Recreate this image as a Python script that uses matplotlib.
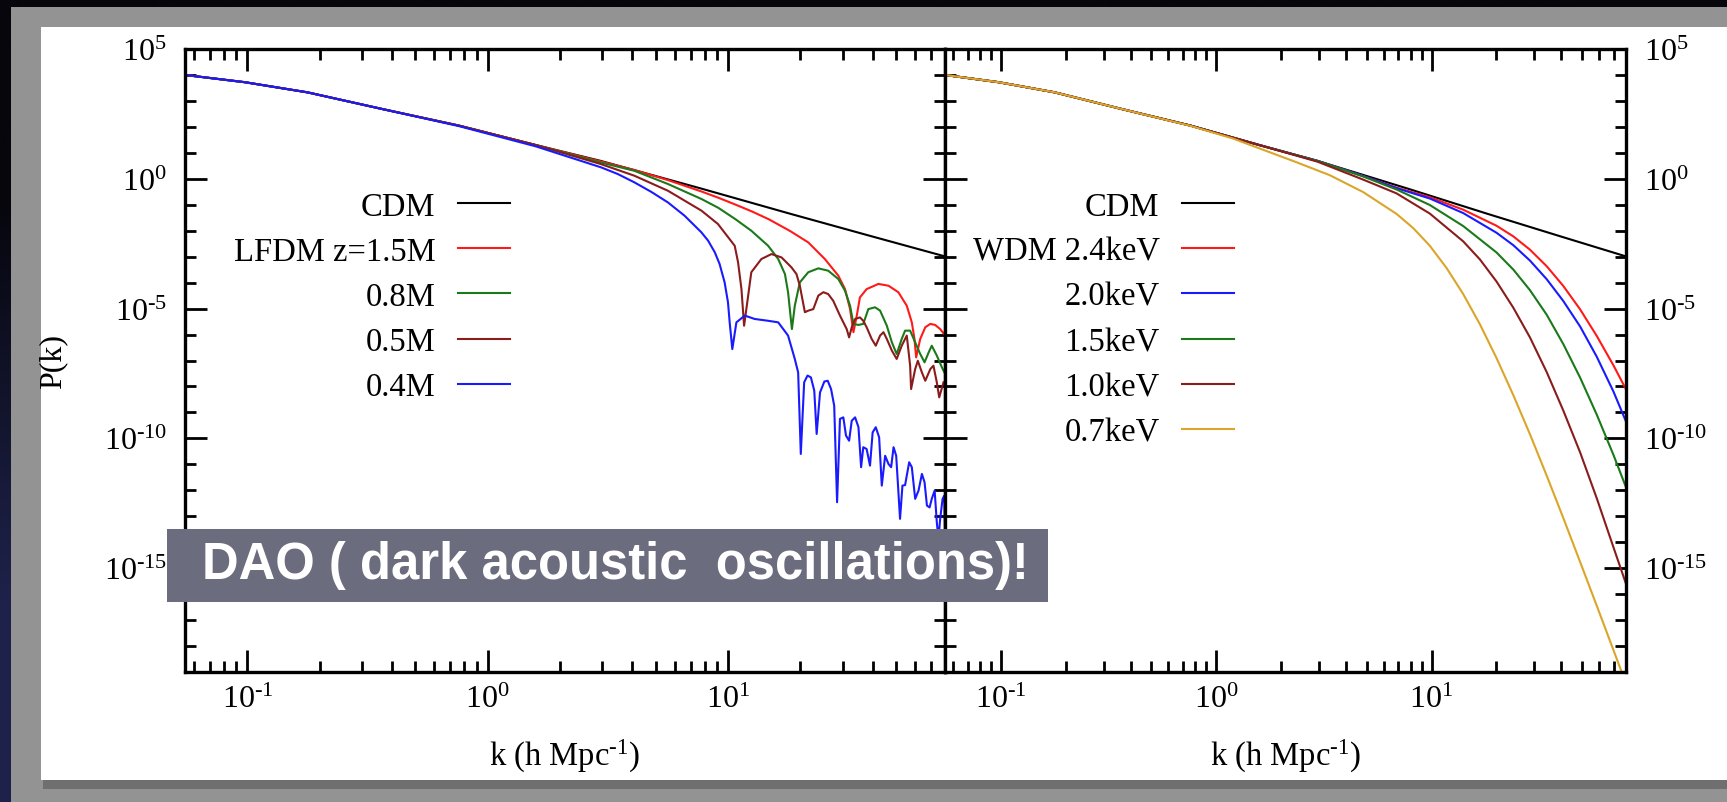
import numpy as np
import matplotlib
matplotlib.use("Agg")
import matplotlib.pyplot as plt
from matplotlib.patches import Rectangle
from matplotlib.ticker import FixedLocator, LogLocator, NullFormatter, FuncFormatter

plt.rcParams['font.family'] = ['Liberation Serif', 'DejaVu Serif']
plt.rcParams['mathtext.fontset'] = 'custom'
plt.rcParams['mathtext.rm'] = 'Liberation Serif'
plt.rcParams['mathtext.it'] = 'Liberation Serif:italic'

# ---------------- data (log10 k, log10 P) ----------------
cdm_logk = [-1.26, -1.01, -0.75, -0.44, -0.12, 0.20, 0.47, 0.89, 1.26, 1.58, 1.903]
cdm_logP = [4.00, 3.72, 3.33, 2.69, 2.05, 1.30, 0.69, -0.38, -1.35, -2.17, -2.99]

# left panel: LFDM
lf15_logk = [-1.26, -1.01, -0.75, -0.44, -0.12, 0.20, 0.47, 0.61, 0.75, 0.89, 0.96, 1.03,
             1.10, 1.17, 1.26, 1.334, 1.403, 1.459, 1.487, 1.508, 1.522, 1.536, 1.549,
             1.577, 1.626, 1.668, 1.709, 1.744, 1.765, 1.776, 1.783, 1.800, 1.821, 1.842,
             1.862, 1.883, 1.903]
lf15_logP = [4.00, 3.72, 3.33, 2.69, 2.05, 1.30, 0.67, 0.34, -0.05, -0.49, -0.73, -0.99,
             -1.26, -1.56, -2.02, -2.45, -3.09, -3.73, -4.25, -5.02, -5.91, -5.27, -4.57,
             -4.25, -4.05, -4.12, -4.37, -4.89, -5.53, -6.17, -6.88, -6.17, -5.72, -5.59,
             -5.63, -5.79, -6.02]

lf08_logk = [-1.26, -1.01, -0.75, -0.44, -0.12, 0.20, 0.47, 0.61, 0.75, 0.89, 0.96, 1.03,
             1.097, 1.167, 1.209, 1.237, 1.250, 1.266, 1.278, 1.299, 1.334, 1.376, 1.417,
             1.459, 1.487, 1.508, 1.522, 1.543, 1.563, 1.584, 1.612, 1.633, 1.661, 1.682,
             1.702, 1.723, 1.737, 1.758, 1.779, 1.800, 1.818, 1.835, 1.848, 1.869, 1.890,
             1.904]
lf08_logP = [4.00, 3.72, 3.33, 2.69, 2.05, 1.30, 0.63, 0.31, -0.20, -0.78, -1.12, -1.55,
             -2.00, -2.58, -3.09, -3.67, -4.37, -5.79, -4.89, -3.99, -3.60, -3.45, -3.54,
             -3.86, -4.31, -4.89, -5.59, -5.63, -5.59, -5.02, -4.95, -5.08, -5.66, -6.30,
             -6.75, -6.17, -5.85, -5.85, -6.30, -6.75, -7.07, -6.69, -6.43, -6.81, -7.26,
             -7.52]

lf05_logk = [-1.26, -1.01, -0.75, -0.44, -0.12, 0.20, 0.47, 0.61, 0.75, 0.89, 0.958, 1.028,
             1.042, 1.056, 1.067, 1.084, 1.097, 1.139, 1.181, 1.223, 1.264, 1.285, 1.299,
             1.320, 1.334, 1.355, 1.376, 1.397, 1.417, 1.438, 1.466, 1.494, 1.504, 1.515,
             1.529, 1.549, 1.563, 1.577, 1.598, 1.615, 1.633, 1.647, 1.661, 1.682, 1.702,
             1.723, 1.744, 1.758, 1.762, 1.779, 1.790, 1.807, 1.821, 1.842, 1.855, 1.869,
             1.879, 1.897]
lf05_logP = [4.00, 3.72, 3.33, 2.69, 2.05, 1.30, 0.57, 0.12, -0.46, -1.23, -1.74, -2.58,
             -3.22, -4.25, -5.66, -4.50, -3.60, -3.09, -2.90, -3.03, -3.41, -3.67, -4.12,
             -5.14, -5.08, -5.02, -4.50, -4.37, -4.44, -4.70, -5.27, -5.79, -6.11, -5.72,
             -5.40, -5.34, -5.47, -5.72, -6.17, -6.43, -6.04, -5.91, -6.17, -6.62, -6.94,
             -6.43, -6.04, -7.20, -8.10, -7.33, -7.01, -7.46, -7.78, -7.33, -7.20, -7.84,
             -8.42, -7.84]

lf04_logk = [-1.26, -1.01, -0.75, -0.44, -0.12, 0.20, 0.472, 0.541, 0.611, 0.680, 0.750,
             0.819, 0.889, 0.917, 0.945, 0.965, 0.986, 1.000, 1.007, 1.018, 1.035, 1.070,
             1.111, 1.167, 1.209, 1.250, 1.278, 1.292, 1.303, 1.317, 1.331, 1.345, 1.359,
             1.369, 1.383, 1.401, 1.415, 1.429, 1.442, 1.454, 1.466, 1.480, 1.491, 1.504,
             1.515, 1.529, 1.543, 1.554, 1.563, 1.577, 1.591, 1.602, 1.615, 1.629, 1.640,
             1.654, 1.668, 1.679, 1.689, 1.700, 1.716, 1.726, 1.737, 1.754, 1.765, 1.779,
             1.793, 1.807, 1.818, 1.828, 1.839, 1.848, 1.860, 1.869, 1.876, 1.883, 1.893,
             1.900, 1.903]
lf04_logP = [4.00, 3.72, 3.33, 2.69, 2.03, 1.25, 0.44, 0.185, -0.14, -0.50, -0.91,
             -1.42, -2.06, -2.38, -2.83, -3.28, -3.99, -4.76, -5.53, -6.56, -5.53, -5.27,
             -5.40, -5.47, -5.53, -6.04, -6.94, -7.46, -10.60, -7.84, -7.58, -7.65, -8.16,
             -9.83, -8.23, -7.81, -7.78, -8.10, -8.74, -12.46, -9.25, -9.19, -9.89, -10.09,
             -9.32, -9.19, -9.57, -11.11, -10.34, -10.41, -11.05, -9.77, -9.57, -9.96, -11.82,
             -10.67, -10.99, -11.11, -10.34, -10.67, -13.10, -11.82, -11.80, -10.92, -11.11, -12.33,
             -12.01, -11.37, -11.69, -12.59, -12.66, -12.33, -12.01, -13.23, -13.87, -13.10, -12.33,
             -12.21, -13.60]

# right panel: WDM
w24_logk = [-1.26, -1.01, -0.75, -0.44, -0.12, 0.20, 0.47, 0.682, 0.837, 0.992, 1.147,
            1.302, 1.380, 1.457, 1.535, 1.612, 1.690, 1.767, 1.845, 1.903]
w24_logP = [4.00, 3.72, 3.33, 2.69, 2.05, 1.30, 0.69, 0.11, -0.34, -0.71, -1.19,
            -1.81, -2.22, -2.73, -3.37, -4.13, -5.03, -6.05, -7.19, -8.11]

w20_logk = [-1.26, -1.01, -0.75, -0.44, -0.12, 0.20, 0.47, 0.682, 0.837, 0.992, 1.147,
            1.302, 1.380, 1.457, 1.535, 1.612, 1.690, 1.767, 1.845, 1.903]
w20_logP = [4.00, 3.72, 3.33, 2.69, 2.05, 1.30, 0.69, 0.11, -0.36, -0.76, -1.32,
            -2.08, -2.56, -3.15, -3.87, -4.71, -5.69, -6.85, -8.20, -9.35]

w15_logk = [-1.26, -1.01, -0.75, -0.44, -0.12, 0.20, 0.47, 0.682, 0.837, 0.992, 1.147,
            1.302, 1.380, 1.457, 1.535, 1.612, 1.690, 1.767, 1.845, 1.903]
w15_logP = [4.00, 3.72, 3.33, 2.69, 2.05, 1.30, 0.69, 0.09, -0.41, -1.01, -1.82,
            -2.84, -3.50, -4.29, -5.24, -6.37, -7.66, -9.08, -10.64, -11.88]

w10_logk = [-1.26, -1.01, -0.75, -0.44, -0.12, 0.20, 0.47, 0.682, 0.837, 0.992, 1.147,
            1.225, 1.302, 1.380, 1.457, 1.535, 1.612, 1.690, 1.767, 1.845, 1.903]
w10_logP = [4.00, 3.72, 3.33, 2.69, 2.05, 1.30, 0.66, -0.03, -0.56, -1.34, -2.41,
            -3.11, -3.96, -4.97, -6.11, -7.45, -8.93, -10.54, -12.30, -14.20, -15.60]

w07_logk = [-1.26, -1.01, -0.75, -0.44, -0.12, 0.078, 0.217, 0.372, 0.527, 0.682, 0.837,
            0.915, 0.992, 1.070, 1.147, 1.225, 1.302, 1.380, 1.457, 1.535, 1.612, 1.690,
            1.767, 1.845, 1.903]
w07_logP = [4.00, 3.72, 3.33, 2.69, 2.04, 1.55, 1.12, 0.64, 0.14, -0.51, -1.35,
            -1.90, -2.58, -3.44, -4.44, -5.61, -6.91, -8.34, -9.84, -11.44, -13.07, -14.76,
            -16.44, -18.16, -19.44]

left_labels = ['CDM', 'LFDM z=1.5M', '0.8M', '0.5M', '0.4M']
right_labels = ['CDM', 'WDM 2.4keV', '2.0keV', '1.5keV', '1.0keV', '0.7keV']
tick_exponents_major = [5, 0, -5, -10, -15]

# ---------------- styling ----------------
c_black = '#000000'
c_red = '#ff1a1a'
c_green = '#1a7a1a'
c_brown = '#8b1c1c'
c_blue = '#1a1aff'
c_gold = '#dba52a'
lw = 1.5

W, H = 1727, 803
fig = plt.figure(figsize=(W / 100, H / 100), dpi=100)

# slide background
bg = fig.add_axes([0, 0, 1, 1], zorder=-10)
grad = np.zeros((2, 2, 3))
grad[0, :, :] = np.array([6, 6, 12]) / 255.0
grad[1, :, :] = np.array([30, 34, 74]) / 255.0
bg.imshow(grad, extent=[0, 1, 0, 1], origin='upper', aspect='auto', interpolation='bilinear')
bg.add_patch(Rectangle((11 / W, 0), 1, 1 - 8 / H, color='#939393', lw=0))
bg.add_patch(Rectangle((43 / W, 1 - 790 / H), 1, 12 / H, color='#6f6f6f', lw=0))
bg.add_patch(Rectangle((41 / W, 1 - 781 / H), 1, (781 - 28) / H, color='white', lw=0))
bg.set_xlim(0, 1)
bg.set_ylim(0, 1)
bg.axis('off')

ax_bottom = 1 - 673 / H
ax_h = 623 / H
axL = fig.add_axes([185 / W, ax_bottom, 760 / W, ax_h])
axR = fig.add_axes([945 / W, ax_bottom, 681 / W, ax_h], sharey=axL)


def P(vals):
    return 10 ** np.array(vals)


axL.plot(P(cdm_logk), P(cdm_logP), color=c_black, lw=lw, label=left_labels[0])
axL.plot(P(lf15_logk), P(lf15_logP), color=c_red, lw=lw, label=left_labels[1])
axL.plot(P(lf08_logk), P(lf08_logP), color=c_green, lw=lw, label=left_labels[2])
axL.plot(P(lf05_logk), P(lf05_logP), color=c_brown, lw=lw, label=left_labels[3])
axL.plot(P(lf04_logk), P(lf04_logP), color=c_blue, lw=lw, label=left_labels[4])

axR.plot(P(cdm_logk), P(cdm_logP), color=c_black, lw=lw, label=right_labels[0])
axR.plot(P(w24_logk), P(w24_logP), color=c_red, lw=lw, label=right_labels[1])
axR.plot(P(w20_logk), P(w20_logP), color=c_blue, lw=lw, label=right_labels[2])
axR.plot(P(w15_logk), P(w15_logP), color=c_green, lw=lw, label=right_labels[3])
axR.plot(P(w10_logk), P(w10_logP), color=c_brown, lw=lw, label=right_labels[4])
axR.plot(P(w07_logk), P(w07_logP), color=c_gold, lw=lw, label=right_labels[5])


def pow_fmt(v, pos):
    if v <= 0:
        return ''
    e = int(round(np.log10(v)))
    es = str(e).replace('-', '\u2010')
    return r'$\mathdefault{10^{%s}}$' % es


for ax in (axL, axR):
    ax.set_xscale('log')
    ax.set_yscale('log')
    ax.set_xlim(0.055, 80)
    ax.set_ylim(1e-19, 1e5)
    ax.xaxis.set_major_locator(LogLocator(base=10, numticks=20))
    ax.xaxis.set_minor_locator(LogLocator(base=10, subs=np.arange(2, 10), numticks=20))
    ax.xaxis.set_major_formatter(FuncFormatter(pow_fmt))
    ax.xaxis.set_minor_formatter(NullFormatter())
    ax.yaxis.set_major_locator(FixedLocator([10.0 ** e for e in tick_exponents_major]))
    ax.yaxis.set_minor_locator(FixedLocator([10.0 ** e for e in range(-19, 6)]))
    ax.yaxis.set_major_formatter(FuncFormatter(pow_fmt))
    ax.yaxis.set_minor_formatter(NullFormatter())
    for s in ax.spines.values():
        s.set_linewidth(2.4)
    ax.tick_params(which='both', direction='in', top=True, bottom=True, left=True, right=True,
                   width=2.0, colors='black')
    ax.tick_params(which='major', length=16, labelsize=23)
    ax.tick_params(which='minor', length=8)
    ax.tick_params(axis='x', which='major', pad=9)
    ax.set_xlabel('k (h Mpc$^{\u20101}$)', fontsize=23.5)
    ax.xaxis.set_label_coords(0.5, -0.105)
    ax.xaxis.label.set_va('top')

axL.tick_params(axis='y', which='major', pad=13, labelleft=True, labelright=False)
axR.tick_params(axis='y', which='major', pad=13, labelleft=False, labelright=True)
axL.set_ylabel('P(k)', fontsize=23)
axL.yaxis.set_label_coords(-0.155, 0.5)

leg_kw = dict(loc='upper right', bbox_transform=fig.transFigure, markerfirst=False,
              frameon=False, fontsize=23.5, handlelength=1.6, handletextpad=0.68,
              labelspacing=0.45, borderpad=0, borderaxespad=0)
axL.legend(bbox_to_anchor=(510 / W, 1 - 192 / H), **leg_kw)
axR.legend(bbox_to_anchor=(1234 / W, 1 - 192 / H), **leg_kw)

# overlay banner
fig.add_artist(Rectangle((167 / W, 1 - 603 / H), 881 / W, 73 / H, transform=fig.transFigure,
                         color='#6b6c7e', lw=0, zorder=10))
fig.text(202 / W, 1 - 566 / H, 'DAO ( dark acoustic  oscillations)!', color='white',
         fontsize=36.5, fontweight='bold', family=['Liberation Sans', 'DejaVu Sans'],
         ha='left', va='center', zorder=11)

fig.savefig('out.png', dpi=100)
